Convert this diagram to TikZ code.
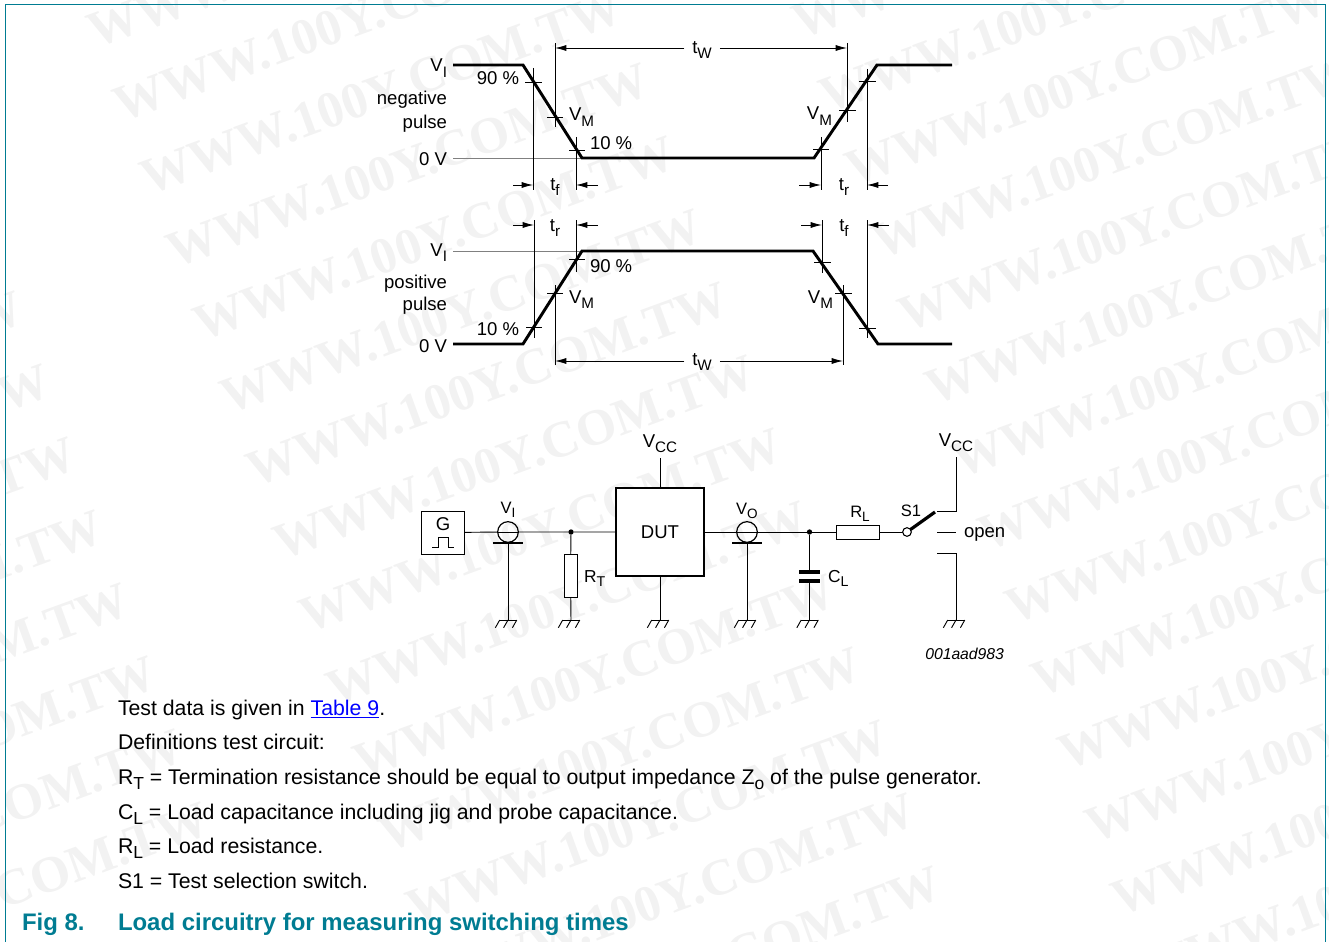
\documentclass[tikz,border=0pt]{standalone}
\usepackage{fontspec}
\usepackage{tikz}
\usetikzlibrary{arrows.meta}
\setmainfont{Liberation Sans}
\newfontfamily\markfont[Scale=1]{Liberation Serif}
\definecolor{figteal}{RGB}{0,124,146}
\definecolor{markgray}{RGB}{242,242,242}
\newcommand{\lowtxt}[1]{\raisebox{-0.27em}{\scalebox{0.82}{#1}}}

\begin{document}
\begin{tikzpicture}[
    x=0.75pt,y=-0.75pt,
    every node/.style={inner sep=0pt,outer sep=0pt},
    wmark/.style={rotate=20,anchor=base west,text=markgray,font=\markfont\bfseries\fontsize{38.5}{39}\selectfont},
    lab/.style={font=\fontsize{13.9}{15}\selectfont},
    tinylab/.style={font=\fontsize{12.4}{13}\selectfont},
    midlab/.style={font=\fontsize{13}{14}\selectfont},
    bodytxt/.style={anchor=base west,font=\fontsize{15.95}{17}\selectfont},
    captxt/.style={anchor=base west,text=figteal,font=\bfseries\fontsize{17.95}{19}\selectfont},
    wave/.style={line width=2.2pt},
    fine/.style={line width=0.7pt},
    dim/.style={line width=0.7pt,-{Latex[length=8.5pt,width=4.6pt]}},
    box/.style={draw,line width=0.6pt,fill=white},
    meter/.style={circle,draw,line width=0.9pt,minimum size=15.5pt},
    dot/.style={circle,fill=black,minimum size=4pt}
]
    \useasboundingbox (0,0) rectangle (1329,942);
    % watermark
    \begin{scope}
        \clip (0,0) rectangle (1329,942);
        \foreach \c in {-1,0,1}
            \foreach \k in {-2,...,14}
                \node[wmark] (mark\c\k) at ({95+732*\c+26.6*\k},{49+64*\c+73*\k}) {WWW.100Y.COM.TW};
    \end{scope}
    % frame
    \draw[figteal,line width=0.75pt] (5,942) -- (5,4.5) -- (1325.5,4.5) -- (1325.5,942);

    % negative pulse
    \draw[gray,fine] (453,158) -- (582,158);
    \draw[wave] (453,65) -- (523,65) -- (582,158) -- (814,158) -- (877,65) -- (952,65);
    \draw[fine] (533,68) -- (533,190) (525,82) -- (542,82);
    \draw[fine] (555,43) -- (555,127) (547,117) -- (563,117);
    \draw[fine] (576,137) -- (576,190) (569,150) -- (585,150);
    \draw[fine] (847,43) -- (847,122) (839,110) -- (856,110);
    \draw[fine] (821,137) -- (821,190) (813,149) -- (829,149);
    \draw[fine] (867,69) -- (867,190) (859,81) -- (876,81);

    \node[lab,anchor=base east] (viA) at (447,72) {V\lowtxt{I}};
    \node[lab,anchor=base east] (negA) at (447,105) {negative};
    \node[lab,anchor=base east] (negB) at (447,128) {pulse};
    \node[lab,anchor=base east] (zeroA) at (447,166) {0 V};
    \node[lab,anchor=base east] (pctA) at (519,85) {90 \%};
    \node[lab,anchor=base west] (pctB) at (590,149) {10 \%};
    \node[lab,anchor=base west] (vmA) at (569,121) {V\lowtxt{M}};
    \node[lab,anchor=base east] (vmB) at (832,120) {V\lowtxt{M}};

    \node[lab,inner xsep=6pt] (twA) at (702,50) {t\lowtxt{W}};
    \coordinate (twAl) at (555,48);
    \coordinate (twAr) at (847,48);
    \draw[dim] (twA.west |- twAl) -- (twAl);
    \draw[dim] (twA.east |- twAr) -- (twAr);

    \node[lab] (tfA) at (555,187) {t\lowtxt{f}};
    \coordinate (tfAa) at (513,185);
    \coordinate (tfAb) at (533,185);
    \coordinate (tfAc) at (598,185);
    \coordinate (tfAd) at (576,185);
    \draw[dim] (tfAa) -- (tfAb);
    \draw[dim] (tfAc) -- (tfAd);

    \node[lab] (trA) at (844,187) {t\lowtxt{r}};
    \coordinate (trAa) at (799,185);
    \coordinate (trAb) at (821,185);
    \coordinate (trAc) at (888,185);
    \coordinate (trAd) at (867,185);
    \draw[dim] (trAa) -- (trAb);
    \draw[dim] (trAc) -- (trAd);

    % positive pulse
    \draw[gray,fine] (453,251) -- (582,251);
    \draw[wave] (453,344) -- (523,344) -- (582,251) -- (813,251) -- (878,344) -- (952,344);
    \draw[fine] (534,220) -- (534,338) (526,327) -- (542,327);
    \draw[fine] (576,220) -- (576,272) (569,259) -- (585,259);
    \draw[fine] (555,285) -- (555,365) (547,293) -- (563,293);
    \draw[fine] (822,220) -- (822,273) (814,262) -- (831,262);
    \draw[fine] (843,285) -- (843,365) (835,293) -- (852,293);
    \draw[fine] (867,220) -- (867,338) (859,328) -- (876,328);

    \node[lab,anchor=base east] (viB) at (447,256) {V\lowtxt{I}};
    \node[lab,anchor=base east] (posA) at (447,288) {positive};
    \node[lab,anchor=base east] (posB) at (447,310) {pulse};
    \node[lab,anchor=base east] (zeroB) at (447,352) {0 V};
    \node[lab,anchor=base east] (pctC) at (519,335) {10 \%};
    \node[lab,anchor=base west] (pctD) at (590,272) {90 \%};
    \node[lab,anchor=base west] (vmC) at (569,303) {V\lowtxt{M}};
    \node[lab,anchor=base east] (vmD) at (833,303) {V\lowtxt{M}};

    \node[lab,inner xsep=6pt] (twB) at (702,362) {t\lowtxt{W}};
    \coordinate (twBl) at (555,361);
    \coordinate (twBr) at (843,361);
    \draw[dim] (twB.west |- twBl) -- (twBl);
    \draw[dim] (twB.east |- twBr) -- (twBr);

    \node[lab] (trB) at (555,228) {t\lowtxt{r}};
    \coordinate (trBa) at (513,225);
    \coordinate (trBb) at (534,225);
    \coordinate (trBc) at (598,225);
    \coordinate (trBd) at (576,225);
    \draw[dim] (trBa) -- (trBb);
    \draw[dim] (trBc) -- (trBd);

    \node[lab] (tfB) at (844,228) {t\lowtxt{f}};
    \coordinate (tfBa) at (801,225);
    \coordinate (tfBb) at (822,225);
    \coordinate (tfBc) at (889,225);
    \coordinate (tfBd) at (867,225);
    \draw[dim] (tfBa) -- (tfBb);
    \draw[dim] (tfBc) -- (tfBd);

    % circuit
    \coordinate (gndI) at (508,620);
    \coordinate (gndT) at (571,620);
    \coordinate (gndD) at (660,620);
    \coordinate (gndO) at (747,620);
    \coordinate (gndL) at (809.5,620);
    \coordinate (gndS) at (956,620);
    \coordinate (barI) at (508,543);
    \coordinate (barO) at (747,543);
    \coordinate (vccD) at (660,458);
    \coordinate (vccS) at (956,457);
    \coordinate (hiA) at (937,511);
    \coordinate (hiB) at (956,511);
    \coordinate (opA) at (937,532);
    \coordinate (opB) at (956,532);
    \coordinate (loA) at (937,553);
    \coordinate (loB) at (956,553);

    \node[box,minimum width=32.25pt,minimum height=32.25pt] (gen) at (442.5,532.5) {};
    \node[meter] (mi) at (508,532) {};
    \node[dot] (jn) at (571,532) {};
    \node[box,minimum width=9.75pt,minimum height=32.25pt] (rt) at (570.5,575.5) {};
    \node[draw,line width=2.2pt,fill=white,minimum width=66pt,minimum height=66pt,font=\fontsize{13.9}{15}\selectfont] (dut) at (660,532) {DUT};
    \node[meter] (mo) at (747,532) {};
    \node[dot] (jo) at (809.5,532) {};
    \node[box,minimum width=32.25pt,minimum height=10.5pt] (rl) at (857.5,532) {};
    \node[circle,draw,line width=0.8pt,minimum size=6.5pt] (sw) at (907,532) {};

    \draw[fine] (gen) -- (mi) -- (jn) -- (dut);
    \draw[fine] (dut) -- (mo) -- (jo) -- (rl) -- (sw);
    \draw[fine] (mi.west) -- (mi.east);
    \draw[fine] (mo.west) -- (mo.east);
    \draw[fine] (jn) -- (rt) -- (gndT);
    \draw[fine] (barI) -- (gndI);
    \draw[fine] (barO) -- (gndO);
    \draw[fine] (vccD) -- (dut) -- (gndD);
    \draw[line width=0.9pt] (493,543) -- (523,543);
    \draw[line width=0.9pt] (732,543) -- (762,543);
    \draw[fine] (jo) -- (gndL);
    \draw[fill=white,draw=white] (799,573.5) rectangle (820,579.5);
    \draw[line width=2.6pt,draw=black] (799,572) -- (820,572);
    \draw[line width=2.6pt,draw=black] (799,581) -- (820,581);
    \draw[line width=2.4pt] (sw) -- (935,512);
    \draw[fine] (vccS) -- (hiB) -- (hiA);
    \draw[fine] (opA) -- (opB);
    \draw[fine] (loA) -- (loB) -- (gndS);
    \draw[fine] (432,547) -- (438,547) -- (438,537) -- (448,537) -- (448,547) -- (454,547);

    \foreach \g in {gndI,gndT,gndD,gndO,gndL,gndS} {
        \draw[fine] ([xshift=-6.2pt]\g) -- ([xshift=6.6pt]\g);
        \foreach \d in {-6.2,0,6.6}
            \draw[fine] ([xshift=\d pt]\g) -- ([xshift={\d pt-3.3pt},yshift=-5.8pt]\g);
    }

    \node[lab] (glab) at (443,524) {G};
    \node[tinylab,anchor=base] (vimark) at (508,513) {V\lowtxt{I}};
    \node[tinylab,anchor=base] (vomark) at (747,514) {V\lowtxt{O}};
    \node[midlab,anchor=base west] (rtlab) at (584,582) {R\lowtxt{T}};
    \node[midlab,anchor=base west] (cllab) at (828,582) {C\lowtxt{L}};
    \node[tinylab,anchor=base] (rllab) at (860,517) {R\lowtxt{L}};
    \node[tinylab,anchor=base] (s1lab) at (911,516) {S1};
    \node[lab,anchor=base west] (oplab) at (964,537) {open};
    \node[lab,anchor=base] (vccA) at (660,447) {V\lowtxt{CC}};
    \node[lab,anchor=base] (vccB) at (956,446) {V\lowtxt{CC}};
    \node[lab,anchor=base east,font=\itshape\fontsize{11.8}{13}\selectfont] (code) at (1004,659) {001aad983};

    % notes
    \node[bodytxt] (noteA) at (118,715) {Test data is given in \textcolor{blue}{\underline{Table 9}}.};
    \node[bodytxt] (noteB) at (118,749) {Definitions test circuit:};
    \node[bodytxt] (noteC) at (118,784) {R\lowtxt{T} = Termination resistance should be equal to output impedance Z\lowtxt{o} of the pulse generator.};
    \node[bodytxt] (noteD) at (118,819) {C\lowtxt{L} = Load capacitance including jig and probe capacitance.};
    \node[bodytxt] (noteE) at (118,853) {R\lowtxt{L} = Load resistance.};
    \node[bodytxt] (noteF) at (118,888) {S1 = Test selection switch.};
    \node[captxt] (figno) at (22,930) {Fig 8.};
    \node[captxt] (figcap) at (118,930) {Load circuitry for measuring switching times};
\end{tikzpicture}
\end{document}
